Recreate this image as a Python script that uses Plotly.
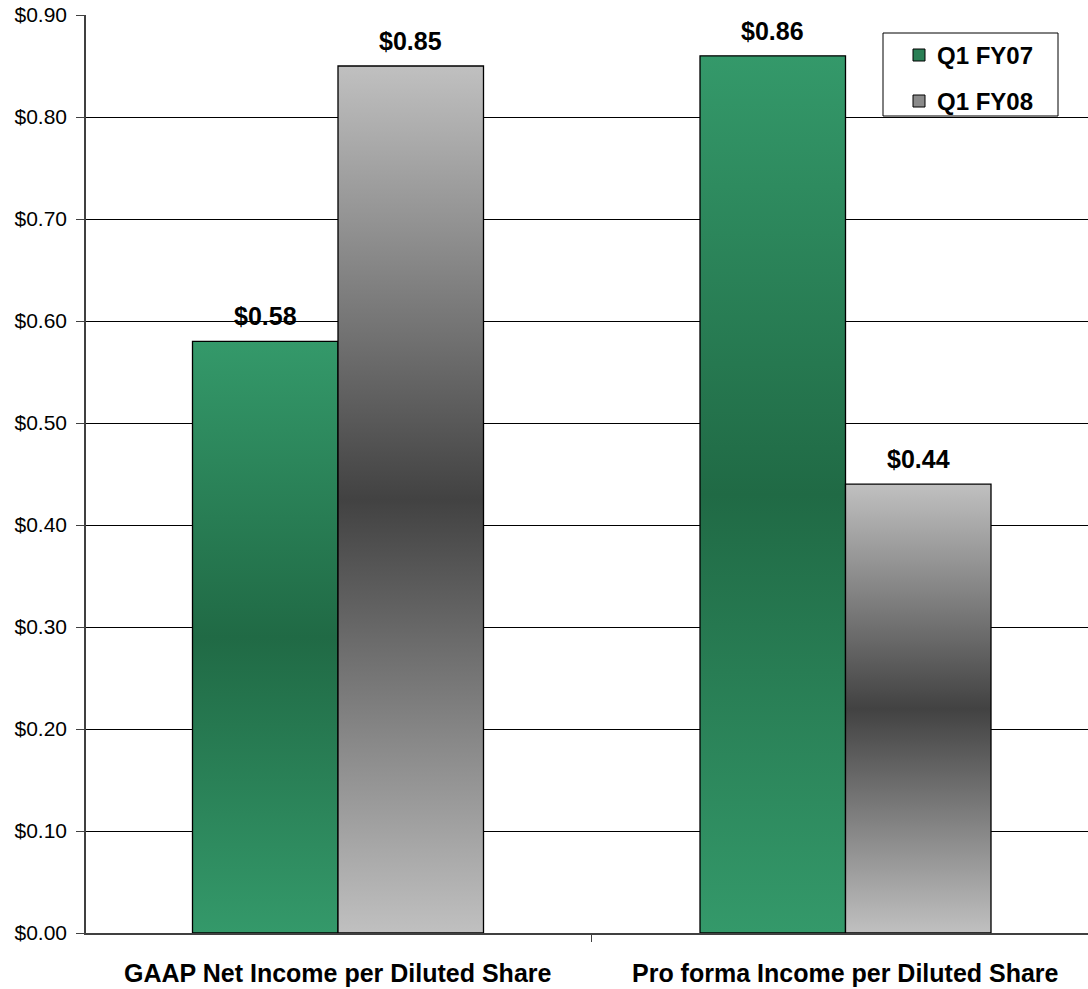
import plotly.graph_objects as go

# ---- data ----
categories = ["GAAP Net Income per Diluted Share", "Pro forma Income per Diluted Share"]
series_names = ["Q1 FY07", "Q1 FY08"]
q1_fy07 = [0.58, 0.86]
q1_fy08 = [0.85, 0.44]
y_ticks = [0.0, 0.1, 0.2, 0.3, 0.4, 0.5, 0.6, 0.7, 0.8, 0.9]

# ---- styling ----
W, H = 1088, 989
ML, MT, MB = 86, 15, 56
PW = W - ML
PH = H - MT - MB
CAT_PX = 507.5           # pixels per category
BAR_W = 145.5 / CAT_PX   # width of one bar in category units
X0 = -252 / CAT_PX       # left edge of plot
X1 = X0 + PW / CAT_PX

green_scale = [[0, "#34996a"], [0.5, "#206a45"], [1, "#34996a"]]
gray_scale = [[0, "#c0c0c0"], [0.5, "#424242"], [1, "#c0c0c0"]]
FONT = "Arial, 'Liberation Sans', sans-serif"

fig = go.Figure()

series = [(q1_fy07, green_scale, -1), (q1_fy08, gray_scale, 0)]
for values, cscale, off in series:
    for i, v in enumerate(values):
        left = i + off * BAR_W
        right = left + BAR_W
        fig.add_trace(go.Scatter(
            x=[left, left, right, right, left],
            y=[0, v, v, 0, 0],
            mode="lines",
            fill="toself",
            fillgradient=dict(type="vertical", colorscale=cscale, start=0, stop=v),
            line=dict(color="#000000", width=1.3),
            hoverinfo="skip",
            showlegend=False,
        ))
        fig.add_annotation(
            x=(left + right) / 2, y=v, xref="x", yref="y",
            text=f"<b>${v:.2f}</b>", showarrow=False,
            yanchor="bottom", yshift=9,
            font=dict(family=FONT, size=25, color="#000000"),
        )

# category labels
for i, c in enumerate(categories):
    fig.add_annotation(
        x=i, y=0, xref="x", yref="paper", text=f"<b>{c}</b>", showarrow=False,
        yanchor="middle", yshift=-40,
        font=dict(family=FONT, size=25, color="#000000"),
    )


def px_x(p):
    return (p - ML) / PW


def px_y(p):
    return (H - MB - p) / PH


# manual legend
shapes = [dict(type="rect", xref="paper", yref="paper",
               x0=px_x(883), x1=px_x(1058), y0=px_y(116), y1=px_y(33),
               line=dict(color="#000000", width=1), fillcolor="#ffffff", layer="above")]
legend_cols = ["#2a7f55", "#8a8a8a"]
for k, name in enumerate(series_names):
    cy = 55 + k * 46
    shapes.append(dict(type="rect", xref="paper", yref="paper",
                       x0=px_x(913), x1=px_x(925), y0=px_y(cy + 6), y1=px_y(cy - 6),
                       line=dict(color="#000000", width=1), fillcolor=legend_cols[k], layer="above"))
    fig.add_annotation(
        x=px_x(935), y=px_y(cy), xref="paper", yref="paper", text=f"<b>{name}</b>",
        showarrow=False, xanchor="left", yanchor="middle",
        font=dict(family=FONT, size=24, color="#000000"),
    )

fig.update_layout(
    width=W, height=H,
    margin=dict(l=ML, r=0, t=MT, b=MB, pad=0),
    paper_bgcolor="#ffffff", plot_bgcolor="#ffffff",
    showlegend=False,
    shapes=shapes,
    xaxis=dict(
        range=[X0, X1], showgrid=False, zeroline=False,
        tickvals=[-0.5, 0.5, 1.5], ticks="outside", ticklen=7, tickcolor="#404040",
        showticklabels=False, showline=True, linecolor="#404040", linewidth=1.5,
        fixedrange=True,
    ),
    yaxis=dict(
        range=[0, 0.9], tickvals=y_ticks, tickformat="$.2f",
        showgrid=True, gridcolor="#000000", gridwidth=1, zeroline=False,
        ticks="outside", ticklen=8, tickcolor="#404040", ticklabelstandoff=5,
        showline=True, linecolor="#404040", linewidth=1.5,
        tickfont=dict(family=FONT, size=21, color="#000000"),
        fixedrange=True,
    ),
)

fig.write_html("out.html")
